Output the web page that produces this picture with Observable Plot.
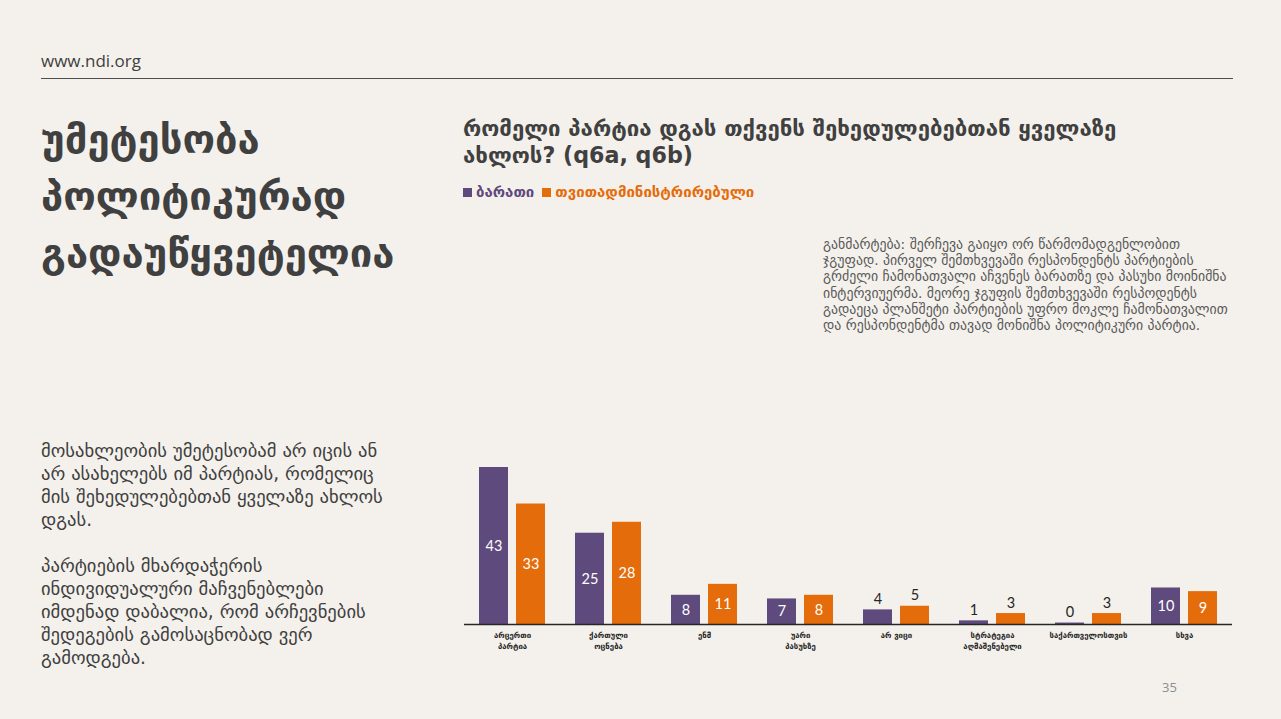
<!DOCTYPE html>
<html><head><meta charset="utf-8">
<script src="https://cdn.jsdelivr.net/npm/d3@7"></script>
<script src="https://cdn.jsdelivr.net/npm/@observablehq/plot@0.6"></script>
<style>
html,body{margin:0;padding:0}
body{background:#f4f1ec;width:1281px;height:719px;overflow:hidden;position:relative;font-family:"Open Sans","DejaVu Sans",sans-serif;color:#404040}
.abs{position:absolute;white-space:pre;margin:0}
#chart{position:absolute;left:440px;top:440px}
</style></head><body>
<div class="abs" style="left:41px;top:49px;font-size:17px;line-height:24px;color:#404040">www.ndi.org</div>
<div class="abs" style="left:41px;top:78px;width:1192px;height:1px;background:#4d4d4d"></div>
<div class="abs" id="bigtitle" style="left:41px;top:111px;font-family:'DejaVu Sans',sans-serif;font-weight:bold;font-size:40px;line-height:57px;color:#404040"></div>
<div class="abs" id="ctitle" style="left:463px;top:115px;font-family:'DejaVu Sans',sans-serif;font-weight:bold;font-size:22.2px;line-height:27px;color:#404040"></div>
<div class="abs" id="legend" style="left:463px;top:182px;font-family:'DejaVu Sans',sans-serif;font-weight:bold;font-size:15px;line-height:21px"></div>
<div class="abs" id="note" style="left:823px;top:236px;font-family:'DejaVu Sans',sans-serif;font-size:13.8px;line-height:16.2px;color:#595959"></div>
<div class="abs" id="para" style="left:41px;top:439px;font-family:'DejaVu Sans',sans-serif;font-size:18.6px;line-height:23px;color:#404040"></div>
<div class="abs" style="left:1162px;top:677px;font-size:13px;line-height:20px;color:#8c8c8c">35</div>
<div id="chart"></div>
<script>
const titleLines = ["უმეტესობა", "პოლიტიკურად", "გადაუწყვეტელია"];
const chartTitleLines = ["რომელი პარტია დგას თქვენს შეხედულებებთან ყველაზე", "ახლოს? (q6a, q6b)"];
const noteLines = [
  "განმარტება: შერჩევა გაიყო ორ წარმომადგენლობით",
  "ჯგუფად. პირველ შემთხვევაში რესპონდენტს პარტიების",
  "გრძელი ჩამონათვალი აჩვენეს ბარათზე და პასუხი მოინიშნა",
  "ინტერვიუერმა. მეორე ჯგუფის შემთხვევაში რესპოდენტს",
  "გადაეცა პლანშეტი პარტიების უფრო მოკლე ჩამონათვალით",
  "და რესპონდენტმა თავად მონიშნა პოლიტიკური პარტია."
];
const paraLines = [
  "მოსახლეობის უმეტესობამ არ იცის ან",
  "არ ასახელებს იმ პარტიას, რომელიც",
  "მის შეხედულებებთან ყველაზე ახლოს",
  "დგას.",
  "",
  "პარტიების მხარდაჭერის",
  "ინდივიდუალური მაჩვენებლები",
  "იმდენად დაბალია, რომ არჩევნების",
  "შედეგების გამოსაცნობად ვერ",
  "გამოდგება."
];

const categories = ["არცერთი პარტია", "ქართული ოცნება", "ენმ", "უარი პასუხზე", "არ ვიცი", "სტრატეგია აღმაშენებელი", "საქართველოსთვის", "სხვა"];
const tickLabels = ["არცერთი\nპარტია", "ქართული\nოცნება", "ენმ", "უარი\nპასუხზე", "არ ვიცი", "სტრატეგია\nაღმაშენებელი", "საქართველოსთვის", "სხვა"];
const series = ["ბარათი", "თვითადმინისტრირებული"];
const cardValues = [43, 25, 8, 7, 4, 1, 0.4, 10];
const selfValues = [33, 28, 11, 8, 5, 3, 3, 9];
const colors = ["#5e4a7c", "#e46c0a"];

document.getElementById("bigtitle").textContent = titleLines.join("\n");
document.getElementById("ctitle").textContent = chartTitleLines.join("\n");
document.getElementById("note").textContent = noteLines.join("\n");
document.getElementById("para").textContent = paraLines.join("\n");
const leg = document.getElementById("legend");
series.forEach((s, i) => {
  const sw = document.createElement("span");
  sw.style.cssText = `display:inline-block;width:9px;height:9px;background:${colors[i]};margin-right:4px;vertical-align:0px`;
  const tx = document.createElement("span");
  tx.textContent = s;
  tx.style.cssText = `color:${colors[i]};margin-right:8px`;
  leg.appendChild(sw); leg.appendChild(tx);
});

const data = categories.flatMap((c, i) => [
  {category: c, series: series[0], value: cardValues[i]},
  {category: c, series: series[1], value: selfValues[i]}
]);
const fmt = d => String(Math.round(d.value));
const chart = Plot.plot({
  width: 810, height: 230,
  marginLeft: 22, marginRight: 17, marginTop: 27, marginBottom: 46,
  style: {background: "transparent", overflow: "visible"},
  fx: {domain: categories, padding: 0, label: null},
  x: {domain: series, axis: null, paddingInner: 0.21, paddingOuter: 0.374},
  y: {domain: [0, 43], axis: null},
  color: {domain: series, range: colors},
  marks: [
    Plot.barY(data, {fx: "category", x: "series", y: "value", fill: "series"}),
    Plot.text(data.filter(d => d.value >= 7), {fx: "category", x: "series", y: d => d.value / 2, text: fmt, fill: "white", fontSize: 14.5, fontFamily: "Lato, 'Open Sans', sans-serif"}),
    Plot.text(data.filter(d => d.value < 7), {fx: "category", x: "series", y: "value", text: fmt, fill: "#262626", fontSize: 14.5, lineAnchor: "bottom", dy: -6, fontFamily: "Lato, 'Open Sans', sans-serif"}),
    Plot.ruleY([0], {stroke: "#262626", strokeWidth: 1.3}),
    Plot.axisFx({anchor: "bottom", tickSize: 0, tickPadding: 5, label: null, tickFormat: c => tickLabels[categories.indexOf(c)], fontSize: 7.8, fontWeight: "bold", lineHeight: 1.45, fill: "#262626", fontFamily: "'DejaVu Sans', sans-serif"})
  ]
});
document.getElementById("chart").appendChild(chart);
</script>
</body></html>
